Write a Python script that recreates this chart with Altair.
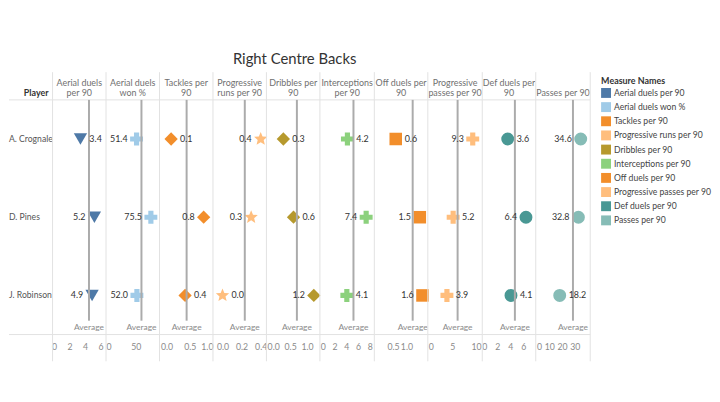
import math
import altair as alt
import pandas as pd

# ---------------- data ----------------
players = ["A. Crognale", "D. Pines", "J. Robinson"]
measures = [
    "Aerial duels per 90", "Aerial duels won %", "Tackles per 90",
    "Progressive runs per 90", "Dribbles per 90", "Interceptions per 90",
    "Off duels per 90", "Progressive passes per 90", "Def duels per 90",
    "Passes per 90",
]
headers = [
    ["Aerial duels", "per 90"], ["Aerial duels", "won %"], ["Tackles per", "90"],
    ["Progressive", "runs per 90"], ["Dribbles per", "90"], ["Interceptions", "per 90"],
    ["Off duels per", "90"], ["Progressive", "passes per 90"], ["Def duels per", "90"],
    ["Passes per 90"],
]

aerial_duels = [3.4, 5.2, 4.9]
aerial_won = [51.4, 75.5, 52.0]
tackles = [0.1, 0.8, 0.4]
prog_runs = [0.4, 0.3, 0.0]
dribbles = [0.3, 0.6, 1.2]
interceptions = [4.2, 7.4, 4.1]
off_duels = [0.6, 1.5, 1.6]
prog_passes = [9.3, 5.2, 3.9]
def_duels = [3.6, 6.4, 4.1]
passes = [34.6, 32.8, 18.2]

series = [aerial_duels, aerial_won, tackles, prog_runs, dribbles,
          interceptions, off_duels, prog_passes, def_duels, passes]

tick_values = [[0, 2, 4, 6], [0, 50], [0, 0.5, 1.0], [0, 0.2, 0.4], [0, 0.5, 1.0],
               [0, 2, 4, 6, 8], [0.5, 1.0], [0, 5, 10], [0, 2, 4, 6], [0, 10, 20, 30]]
tick_formats = ["d", "d", ".1f", ".1f", ".1f", "d", ".1f", "d", "d", "d"]
domains = [[-0.2, 6.7], [0, 90], [-0.15, 1.0], [-0.1, 0.46], [-0.2, 1.38],
           [-0.5, 8.8], [-0.2, 1.8], [-0.1, 11.3], [-0.3, 7.9], [-0.5, 42.0]]

colors = ["#4e79a7", "#a0cbe8", "#f28e2b", "#ffbe7d", "#b6992d",
          "#8cd17d", "#f28e2b", "#ffbe7d", "#499894", "#86bcb6"]


def star_path(n=5, r_out=1.0, r_in=0.45):
    pts = []
    for k in range(2 * n):
        r = r_out if k % 2 == 0 else r_in
        a = -math.pi / 2 + k * math.pi / n
        pts.append((r * math.cos(a), r * math.sin(a)))
    return "M" + " L".join(f"{x:.3f},{y:.3f}" for x, y in pts) + " Z"


shapes = ["triangle-down", "cross", "diamond", star_path(), "diamond",
          "cross", "square", "cross", "circle", "circle"]
sizes = [180, 170, 180, 200, 180, 170, 160, 170, 170, 170]

FONT = "Lato"
H = 237
widths = [54, 54, 54, 54, 54, 55, 54, 55, 54, 55]
GRID = "#e2e2e2"
LH = 11

rows = []
for i, m in enumerate(measures):
    lo, hi = domains[i]
    w = widths[i]
    for p, v in zip(players, series[i]):
        txt = f"{v:.1f}"
        xpix = (v - lo) / (hi - lo) * w
        side = "R" if xpix + 7 + len(txt) * 4.3 <= w else "L"
        rows.append({"player": p, "measure": m, "value": v, "side": side})
df = pd.DataFrame(rows)

one = pd.DataFrame({"k": [0]})

color_enc = alt.Color(
    "measure:N",
    scale=alt.Scale(domain=measures, range=colors),
    legend=alt.Legend(
        title="Measure Names", orient="none", legendX=598, legendY=-23,
        symbolType="square", symbolSize=100, symbolStrokeWidth=0,
        titleFont=FONT, titleFontSize=9, titleFontWeight="bold", titleColor="#333",
        labelFont=FONT, labelFontSize=8.7, labelColor="#444", rowPadding=4.3,
        titlePadding=2, labelLimit=200, labelOffset=3,
    ),
)
y_enc = alt.Y("player:N", sort=players, axis=None)


def hlines(w):
    return [
        alt.Chart(one).mark_rule(color=GRID, strokeWidth=1).encode(
            x=alt.value(0), x2=alt.value(w), y=alt.value(0)),
        alt.Chart(one).mark_rule(color=GRID, strokeWidth=1).encode(
            x=alt.value(0), x2=alt.value(w), y=alt.value(H)),
    ]


def vline(xpos):
    return alt.Chart(one).mark_rule(color=GRID, strokeWidth=1).encode(
        x=alt.value(xpos), y=alt.value(-28), y2=alt.value(H + 27))


def header(text, xpos, align, weight, color):
    lines = text if isinstance(text, list) else [text]
    return alt.Chart(one).mark_text(
        font=FONT, fontSize=9, fontWeight=weight, color=color, align=align,
        baseline="bottom", lineHeight=LH).encode(
        x=alt.value(xpos), y=alt.value(-1.5 - (len(lines) - 1) * LH),
        text=alt.value(lines))


panels = []
for i, m in enumerate(measures):
    w = widths[i]
    sub = df[df["measure"] == m]
    base = alt.Chart(sub)
    x_scale = alt.Scale(domain=domains[i], nice=False, zero=False)
    x_axis = alt.Axis(title=None, values=tick_values[i], format=tick_formats[i],
                      grid=False, ticks=False, domain=False, labelFlush=True,
                      labelOverlap=False, labelBound=False, labelFont=FONT,
                      labelFontSize=8.8, labelColor="#8a8a8a", labelPadding=8)
    x_enc = alt.X("value:Q", scale=x_scale, axis=x_axis)
    x_avg = alt.X("mean(value):Q", scale=x_scale, axis=x_axis)
    layers = hlines(w) + [vline(0), header(headers[i], w / 2, "center", "normal", "#707070")]
    if i == len(measures) - 1:
        layers.append(vline(w))
    avg_rule = base.mark_rule(color="#ababab", strokeWidth=2).encode(
        x=x_avg, y=alt.value(0), y2=alt.value(H - 14))
    avg_txt = base.mark_text(font=FONT, fontSize=8.5, color="#8a8a8a", baseline="middle").encode(
        x=x_avg, y=alt.value(H - 8), text=alt.value("Average"))
    pts = base.mark_point(shape=shapes[i], filled=True, size=sizes[i], opacity=1).encode(
        x=x_enc, y=y_enc, color=color_enc)
    lab_r = base.transform_filter(alt.datum.side == "R").mark_text(
        align="left", dx=9, font=FONT, fontSize=9, color="#333", baseline="middle").encode(
        x=x_enc, y=y_enc, text=alt.Text("value:Q", format=".1f"))
    lab_l = base.transform_filter(alt.datum.side == "L").mark_text(
        align="right", dx=-9, font=FONT, fontSize=9, color="#333", baseline="middle").encode(
        x=x_enc, y=y_enc, text=alt.Text("value:Q", format=".1f"))
    panel = alt.layer(pts, *layers, avg_rule, avg_txt, lab_r, lab_l).properties(
        width=w, height=H)
    panels.append(panel)

player_df = pd.DataFrame({"player": players})
player_panel = alt.layer(
    *hlines(44),
    header("Player", 40, "right", "bold", "#333"),
    alt.Chart(player_df).mark_text(align="left", font=FONT, fontSize=8.7, color="#555",
                                   baseline="middle").encode(
        x=alt.value(0), y=y_enc, text="player:N"),
).properties(width=44, height=H)

chart = alt.hconcat(player_panel, *panels, spacing=0, bounds="flush").resolve_scale(
    x="independent", y="shared", color="shared"
).properties(
    title=alt.TitleParams(text="Right Centre Backs", font=FONT, fontSize=15,
                          fontWeight="normal", color="#333", anchor="start",
                          align="center", dx=289, offset=5),
    padding={"left": 0, "top": 42, "right": 0, "bottom": 5},
).configure_view(stroke=None).configure_axis(labelOverlap=False)

chart.save("out.html", embed_options={"renderer": "svg", "actions": False})
